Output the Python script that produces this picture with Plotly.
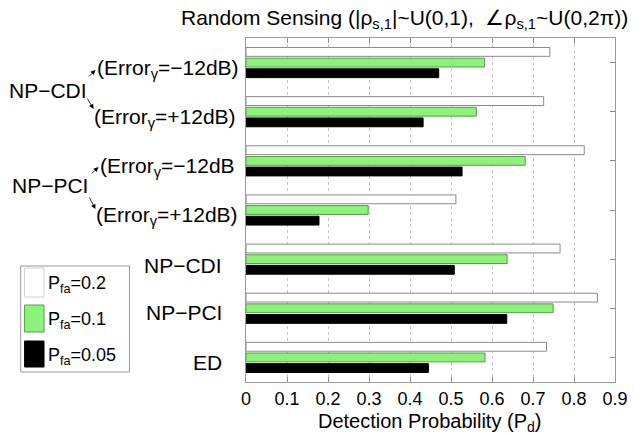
import plotly.graph_objects as go

# Detection probability per detector / channel-error case, for three false-alarm rates
categories = [
    "NP-CDI, Error -12dB",
    "NP-CDI, Error +12dB",
    "NP-PCI, Error -12dB",
    "NP-PCI, Error +12dB",
    "NP-CDI",
    "NP-PCI",
    "ED",
]
pd_pfa_020 = [0.741, 0.726, 0.825, 0.512, 0.766, 0.857, 0.733]
pd_pfa_010 = [0.582, 0.562, 0.681, 0.298, 0.637, 0.749, 0.583]
pd_pfa_005 = [0.470, 0.432, 0.527, 0.178, 0.508, 0.636, 0.445]

x_ticks = [0, 0.1, 0.2, 0.3, 0.4, 0.5, 0.6, 0.7, 0.8, 0.9]
x_tick_labels = ["0", "0.1", "0.2", "0.3", "0.4", "0.5", "0.6", "0.7", "0.8", "0.9"]

FONT = "Liberation Sans, Arial, Helvetica, sans-serif"
W, H = 640, 434
L, R, T, B = 246, 626, 38, 382  # plot area in pixels


def px(x):
    return (x - L) / (R - L)


def py(y):
    return (B - y) / (B - T)


fig = go.Figure()
# bottom-to-top inside each group: black, green, white
fig.add_trace(go.Bar(y=categories, x=pd_pfa_005, orientation="h",
                     marker=dict(color="#000000", line=dict(color="#000000", width=1)),
                     name="Pfa=0.05"))
fig.add_trace(go.Bar(y=categories, x=pd_pfa_010, orientation="h",
                     marker=dict(color="#8cf27a", line=dict(color="#5a9a50", width=1)),
                     name="Pfa=0.1"))
fig.add_trace(go.Bar(y=categories, x=pd_pfa_020, orientation="h",
                     marker=dict(color="#ffffff", line=dict(color="#8a8a8a", width=1)),
                     name="Pfa=0.2"))

annotations = []
shapes = []

# title
annotations.append(dict(
    xref="paper", yref="paper", x=px(409), y=py(19), xanchor="center", yanchor="middle",
    text="Random Sensing (|ρ<sub>s,1</sub>|~U(0,1),&nbsp;&nbsp;∠ρ<sub>s,1</sub>~U(0,2π))",
    showarrow=False, font=dict(family=FONT, size=21, color="#000")))

# x axis title
annotations.append(dict(
    xref="paper", yref="paper", x=px(435), y=py(422), xanchor="center", yanchor="middle",
    text="Detection Probability (P<sub>d</sub>)",
    showarrow=False, font=dict(family=FONT, size=20, color="#000")))

# left-hand labels
left_labels = [
    ("NP−CDI", 84, 90, "right"),
    ("(Error<sub>γ</sub>=−12dB)", 91, 69, "left"),
    ("(Error<sub>γ</sub>=+12dB)", 87, 118, "left"),
    ("NP−PCI", 85, 185, "right"),
    ("(Error<sub>γ</sub>=−12dB", 94, 167, "left"),
    ("(Error<sub>γ</sub>=+12dB)", 89, 216, "left"),
    ("NP−CDI", 223, 265, "right"),
    ("NP−PCI", 223, 312, "right"),
    ("ED", 223, 362, "right"),
]
for txt, x, y, anchor in left_labels:
    annotations.append(dict(
        xref="paper", yref="paper", x=px(x), y=py(y), xanchor=anchor, yanchor="middle",
        text=txt, showarrow=False, font=dict(family=FONT, size=21, color="#000")))

# small arrows from the detector names to their error cases
arrows = [
    (91, 70, 83, 78),
    (89, 109, 82, 97),
    (94, 167, 86, 175),
    (91, 209, 84, 196),
]
for hx, hy, tx, ty in arrows:
    annotations.append(dict(
        xref="paper", yref="paper", x=px(hx), y=py(hy), text="", showarrow=True,
        ax=tx - hx, ay=ty - hy, arrowhead=2, arrowsize=1.2, arrowwidth=0.8,
        arrowcolor="#000"))

# legend box
shapes.append(dict(type="rect", xref="paper", yref="paper",
                   x0=px(14), x1=px(126), y0=py(372), y1=py(266),
                   line=dict(color="#9a9a9a", width=1), fillcolor="#ffffff"))
legend_items = [
    ("#ffffff", "#cfcfcf", "0.2", 268, 297),
    ("#8cf27a", "#5a9a50", "0.1", 305, 332),
    ("#000000", "#000000", "0.05", 341, 367),
]
for fill, edge, val, y0, y1 in legend_items:
    shapes.append(dict(type="rect", xref="paper", yref="paper",
                       x0=px(18), x1=px(38), y0=py(y1), y1=py(y0),
                       line=dict(color=edge, width=1), fillcolor=fill))
    annotations.append(dict(
        xref="paper", yref="paper", x=px(40), y=py((y0 + y1) / 2 + 2),
        xanchor="left", yanchor="middle",
        text="P<sub>fa</sub>=" + val, showarrow=False,
        font=dict(family=FONT, size=18, color="#000")))

fig.update_layout(
    width=W, height=H,
    margin=dict(l=L, r=W - R, t=T, b=H - B),
    paper_bgcolor="#ffffff", plot_bgcolor="#ffffff",
    barmode="group", bargap=0.35, bargroupgap=0.17,
    showlegend=False,
    annotations=annotations, shapes=shapes,
    font=dict(family=FONT, size=18, color="#000"),
)
fig.update_xaxes(
    range=[0, 0.9], tickvals=x_ticks, ticktext=x_tick_labels,
    ticks="inside", ticklen=5, tickcolor="#8a8a8a",
    showline=True, linecolor="#9a9a9a", linewidth=1, mirror="ticks",
    showgrid=True, gridcolor="#c4c4c4", griddash="dot", gridwidth=1,
    zeroline=False, tickfont=dict(family=FONT, size=18, color="#000"),
    ticklabelstandoff=0,
    layer="below traces",
)
fig.update_yaxes(
    categoryorder="array", categoryarray=categories[::-1],
    showticklabels=False, ticks="inside", ticklen=5, tickcolor="#8a8a8a",
    showline=True, linecolor="#9a9a9a", linewidth=1, mirror="ticks",
    showgrid=False, zeroline=False, layer="below traces",
)

fig.write_html("out.html")
